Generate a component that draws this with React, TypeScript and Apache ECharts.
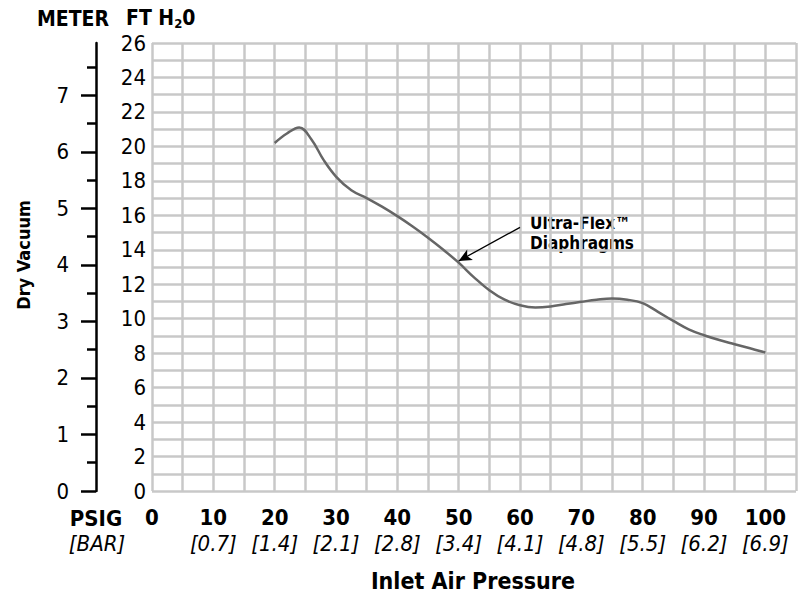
import React, { useEffect, useRef } from 'react';
import * as echarts from 'echarts';

const FONT = "'Liberation Sans Narrow', 'DejaVu Sans Condensed', 'Arial Narrow', sans-serif";

// Inlet air pressure (psig) vs dry vacuum (ft H2O)
const pressurePsig = [20, 22, 24, 26, 28, 30, 32.5, 35, 37.5, 40, 42.5, 45, 47.5, 50, 52.5, 55, 57.5, 60, 62.5, 65, 67.5, 70, 72.5, 75, 77.5, 80, 82.5, 85, 87.5, 90, 92.5, 95, 97.5, 100];
const vacuumFt = [20.2, 20.75, 21.1, 20.4, 19.2, 18.25, 17.45, 17.0, 16.5, 15.95, 15.35, 14.7, 14.0, 13.25, 12.4, 11.65, 11.1, 10.78, 10.65, 10.71, 10.85, 10.98, 11.1, 11.17, 11.1, 10.9, 10.4, 9.87, 9.38, 9.04, 8.76, 8.52, 8.28, 8.04];

const psigTicks = [0, 10, 20, 30, 40, 50, 60, 70, 80, 90, 100];
const barTicks = ['', '0.7', '1.4', '2.1', '2.8', '3.4', '4.1', '4.8', '5.5', '6.2', '6.9'];
const meterMajor = [0, 1, 2, 3, 4, 5, 6, 7];
const meterMinor = [0.5, 1.5, 2.5, 3.5, 4.5, 5.5, 6.5, 7.5];
const FT_PER_M = 3.28084;
const FT_MAX = 26;

// annotation arrow (from label to curve), in data coordinates
const arrowFrom = [60, 15.3];
const arrowTo = [50, 13.35];

export default function App() {
  const ref = useRef<HTMLDivElement>(null);
  useEffect(() => {
    if (!ref.current) return;
    const chart = echarts.init(ref.current, null, { renderer: 'svg' });
    const gridColor = '#c8c8c8';
    const option: any = {
      animation: false,
      backgroundColor: '#ffffff',
      grid: { left: 152, right: 3, top: 43, bottom: 106, containLabel: false },
      xAxis: {
        type: 'value',
        min: 0,
        max: 105,
        interval: 5,
        axisLine: { show: false },
        axisTick: { show: false },
        splitLine: { show: true, lineStyle: { color: gridColor, width: 2.5 } },
        axisLabel: {
          margin: 13,
          formatter: (v: number) => {
            const i = psigTicks.indexOf(v);
            if (i < 0) return '';
            return barTicks[i] ? `{b|${v}}\n{i|[${barTicks[i]}]}` : `{b|${v}}`;
          },
          rich: {
            b: { fontFamily: FONT, fontWeight: 'bold', fontSize: 22, lineHeight: 26, color: '#000' },
            i: { fontFamily: FONT, fontStyle: 'italic', fontSize: 22, lineHeight: 26, color: '#000' },
          },
        },
      },
      yAxis: [
        {
          type: 'value',
          min: 0,
          max: FT_MAX,
          interval: 1,
          position: 'left',
          axisLine: { show: false },
          axisTick: { show: false },
          splitLine: { show: true, lineStyle: { color: gridColor, width: 2.5 } },
          axisLabel: {
            margin: 6,
            fontFamily: FONT,
            fontSize: 22,
            color: '#000',
            formatter: (v: number) => (v % 2 === 0 ? String(v) : ''),
          },
        },
        {
          type: 'value',
          min: 0,
          max: FT_MAX / FT_PER_M,
          position: 'left',
          offset: 56,
          axisLine: { show: true, lineStyle: { color: '#000', width: 2.5 } },
          axisTick: { show: true, customValues: meterMajor, length: 15, lineStyle: { color: '#000', width: 2.5 } },
          splitLine: { show: false },
          axisLabel: {
            customValues: meterMajor,
            margin: 27,
            fontFamily: FONT,
            fontSize: 22,
            color: '#000',
          },
        },
        {
          type: 'value',
          min: 0,
          max: FT_MAX / FT_PER_M,
          position: 'left',
          offset: 56,
          axisLine: { show: false },
          axisTick: { show: true, customValues: meterMinor, length: 9, lineStyle: { color: '#000', width: 2.5 } },
          splitLine: { show: false },
          axisLabel: { show: false },
        },
      ],
      series: [
        {
          type: 'line',
          yAxisIndex: 0,
          data: pressurePsig.map((p, i) => [p, vacuumFt[i]]),
          smooth: 0.4,
          showSymbol: false,
          lineStyle: { color: '#666666', width: 2.5 },
          markLine: {
            silent: true,
            symbol: ['none', 'arrow'],
            symbolSize: [9, 13],
            lineStyle: { color: '#000', width: 1.3, type: 'solid' },
            label: { show: false },
            data: [[{ coord: arrowFrom }, { coord: arrowTo }]],
          },
        },
      ],
      graphic: [
        { type: 'text', left: 37, top: 8, style: { text: 'METER', font: `bold 21px ${FONT}`, fill: '#000' } },
        {
          type: 'text',
          left: 126,
          top: 7,
          style: {
            text: '{a|FT H}{s|2}{a|0}',
            fill: '#000',
            rich: {
              a: { fontFamily: FONT, fontWeight: 'bold', fontSize: 21, lineHeight: 24, fill: '#000' },
              s: { fontFamily: FONT, fontWeight: 'bold', fontSize: 13, lineHeight: 8, verticalAlign: 'bottom', fill: '#000' },
            },
          },
        },
        { type: 'text', x: 96, y: 518, style: { text: 'PSIG', font: `bold 22px ${FONT}`, fill: '#000', align: 'center', verticalAlign: 'middle' } },
        { type: 'text', x: 97, y: 543, style: { text: '[BAR]', font: `italic 22px ${FONT}`, fill: '#000', align: 'center', verticalAlign: 'middle' } },
        { type: 'text', x: 473, y: 581, style: { text: 'Inlet Air Pressure', font: `bold 23px ${FONT}`, fill: '#000', align: 'center', verticalAlign: 'middle' } },
        { type: 'text', x: 23, y: 255, rotation: Math.PI / 2, style: { text: 'Dry Vacuum', font: `bold 18px ${FONT}`, fill: '#000', align: 'center', verticalAlign: 'middle' } },
        { type: 'text', x: 530, y: 233, style: { text: 'Ultra-Flex™\nDiaphragms', font: `bold 17px ${FONT}`, lineHeight: 20, fill: '#000', align: 'left', verticalAlign: 'middle' } },
      ],
    };
    chart.setOption(option);
    return () => chart.dispose();
  }, []);
  return <div ref={ref} style={{ position: 'fixed', left: 0, top: 0, width: 799, height: 597, background: '#fff' }} />;
}
